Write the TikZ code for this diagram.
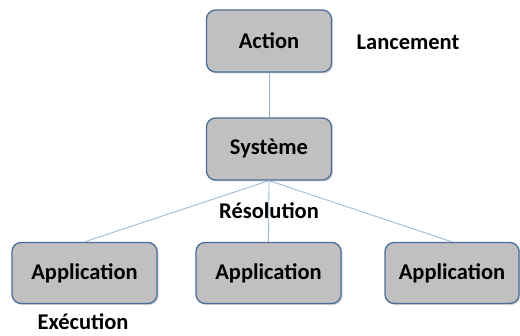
\documentclass[tikz,border=0pt]{standalone}
\usepackage{fontspec}
\setmainfont{Carlito}
\usepackage{tikz}
\usetikzlibrary{positioning,shadows}
\definecolor{boxfill}{HTML}{C0C0C0}
\definecolor{boxline}{HTML}{4A6E96}
\definecolor{linkline}{HTML}{95B3D7}

\begin{document}
\begin{tikzpicture}[
    x=1pt, y=1pt,
    font=\bfseries\fontsize{22.5}{26}\selectfont,
    block/.style={
		rectangle,
		rounded corners=9pt,
		draw=boxline,
		line width=1.3pt,
		fill=boxfill,
		text centered,
		minimum width=125pt,
		minimum height=62pt,
		drop shadow={shadow xshift=1.5pt, shadow yshift=-1.5pt, opacity=0.35}
	},
	appli/.style={
		block,
		minimum width=145pt,
		minimum height=61pt
	},
	link/.style={
		draw=linkline,
		line width=0.8pt
	}
  ]
  \useasboundingbox (0,0) rectangle (520,-336);

  % the blocks
  \node [block] (action) at (269,-41) {Action};
  \node [block] (systeme) at (269,-149) {Système};

  \node [appli] (app1) at (84.5,-273) {Application};
  \node [appli] (app2) at (268.5,-273) {Application};
  \node [appli, minimum width=134pt] (app3) at (452,-273) {Application};

  % the labels
  \node (lancement) at (408,-42) {Lancement};
  \node (resolution) at (269,-211) {Résolution};
  \node (execution) at (83,-322) {Exécution};

  % links
  \draw [link] (action) -- (systeme);
  \draw [link] (systeme.south) -- (app1.north);
  \draw [link] (systeme.south) -- (app2.north);
  \draw [link] (systeme.south) -- (app3.north);

\end{tikzpicture}
\end{document}
